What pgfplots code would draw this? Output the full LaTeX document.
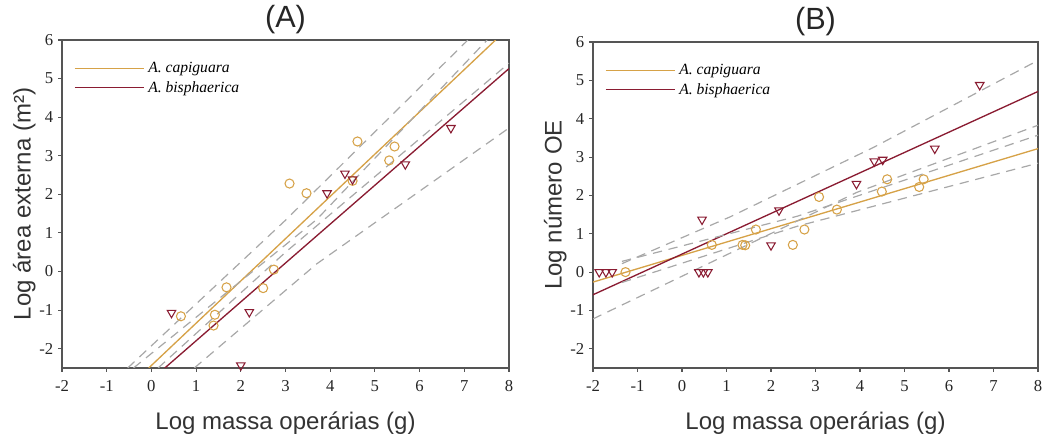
\documentclass[border=0pt]{standalone}
\usepackage{fontspec}
\setmainfont{Liberation Serif}
\setsansfont{Liberation Sans}
\newfontfamily\tickfont{Liberation Serif}
\usepackage{pgfplots}
\pgfplotsset{compat=1.18}

\definecolor{capi}{RGB}{214,162,72}
\definecolor{bisp}{RGB}{138,28,50}
\definecolor{band}{RGB}{168,168,168}
\definecolor{axisgray}{RGB}{85,85,85}

\pgfplotsset{
  panel/.style={
    scale only axis,
    xmin=-2, xmax=8, ymin=-2.5, ymax=6,
    xtick={-2,...,8}, ytick={-2,...,6},
    tick align=outside, tick pos=left,
    major tick length=3pt,
    axis line style={axisgray, line width=0.8pt},
    tick style={axisgray, line width=0.8pt},
    /pgf/number format/assume math mode=true,
    tick label style={font=\tickfont\fontsize{12.5}{14}\selectfont, text=black!85},
    xticklabel style={yshift=-3pt},
    label style={font=\sffamily\fontsize{18}{20}\selectfont, text=black!80},
    xlabel style={yshift=-8pt},
    ylabel style={yshift=-4pt},
    title style={font=\sffamily\fontsize{23}{25}\selectfont, text=black!85, yshift=-5pt},
    clip mode=individual,
    legend style={draw=none, fill=none, at={(0,1)}, anchor=north west,
      xshift=6pt, yshift=-12pt,
      font=\tickfont\itshape\fontsize{11.7}{13}\selectfont, row sep=0pt,
      nodes={inner sep=2.5pt}},
    legend cell align=left,
    legend image code/.code={\draw[#1] (0pt,0pt) -- (45pt,0pt); \path (0pt,0pt) -- (52pt,0pt);},
  },
  fitline/.style={line width=1pt},
  ci/.style={band, line width=0.9pt, dash pattern=on 7pt off 5pt, forget plot},
  circ/.style={only marks, mark=o, mark size=3.4pt, mark options={capi, line width=0.8pt}, forget plot},
  tri/.style={only marks, mark=triangle, mark size=3.7pt, mark options={bisp, line width=0.8pt, rotate=180}, forget plot},
}

\begin{document}
\begin{tikzpicture}
\useasboundingbox (0,0) rectangle (791.25pt,330.75pt);

% ---------------- (A) ----------------
\begin{axis}[panel,
  at={(46.5pt,54.75pt)}, anchor=south west,
  width=335.25pt, height=246pt,
  title={(A)},
  xlabel={Log massa operárias (g)},
  ylabel={Log área externa (m²)},
]
\addplot[capi, fitline] coordinates {(-0.06,-2.5) (7.70,6)};
\addlegendentry{A. capiguara}
\addplot[bisp, fitline] coordinates {(0.30,-2.5) (8,5.26)};
\addlegendentry{A. bisphaerica}

% confidence bands
\addplot[ci] coordinates {(-0.53,-2.5) (3,1.33) (7.08,6)};
\addplot[ci] coordinates {(0.15,-2.5) (3,0.50) (8,5.40)};
\addplot[ci] coordinates {(-0.40,-2.5) (3.7,1.35) (7.51,6)};
\addplot[ci] coordinates {(0.96,-2.5) (3.7,0.20) (8,3.72)};

\addplot[circ] coordinates {
  (0.66,-1.16) (1.39,-1.40) (1.42,-1.12) (1.68,-0.41) (2.50,-0.43) (2.74,0.05)
  (3.09,2.28) (3.47,2.03) (4.50,2.35) (4.61,3.37) (5.32,2.88) (5.44,3.24)
};
\addplot[tri] coordinates {
  (0.45,-1.07) (2.19,-1.05) (2.00,-2.43) (3.93,2.03) (4.33,2.54) (4.50,2.39)
  (5.68,2.78) (6.70,3.72)
};
\end{axis}

% ---------------- (B) ----------------
\begin{axis}[panel,
  at={(444.75pt,54.75pt)}, anchor=south west,
  width=333.75pt, height=244.5pt,
  title={(B)},
  xlabel={Log massa operárias (g)},
  ylabel={Log número OE},
]
\addplot[capi, fitline] coordinates {(-2,-0.26) (8,3.22)};
\addlegendentry{A. capiguara}
\addplot[bisp, fitline] coordinates {(-2,-0.59) (8,4.71)};
\addlegendentry{A. bisphaerica}

\addplot[ci] coordinates {(-1.35,0.28) (2.6,1.46) (8,3.57)};
\addplot[ci] coordinates {(-1.35,-0.27) (2.6,1.20) (8,2.84)};
\addplot[ci] coordinates {(-1.35,0.22) (1.08,1.44) (4.3,3.25) (8,5.52)};
\addplot[ci] coordinates {(-2,-1.22) (3.93,2.08) (8,3.83)};

\addplot[circ] coordinates {
  (-1.27,0) (0.67,0.71) (1.36,0.71) (1.42,0.70) (1.66,1.11) (2.49,0.71)
  (2.75,1.11) (3.08,1.96) (3.48,1.63) (4.49,2.10) (4.61,2.42) (5.33,2.22)
  (5.43,2.42)
};
\addplot[tri] coordinates {
  (-1.86,0) (-1.71,0) (-1.57,0) (0.38,0) (0.48,0) (0.58,0) (0.45,1.37)
  (2.00,0.70) (2.18,1.61) (3.92,2.30) (4.32,2.89) (4.51,2.93) (5.68,3.22)
  (6.69,4.88)
};
\end{axis}
\end{tikzpicture}
\end{document}
